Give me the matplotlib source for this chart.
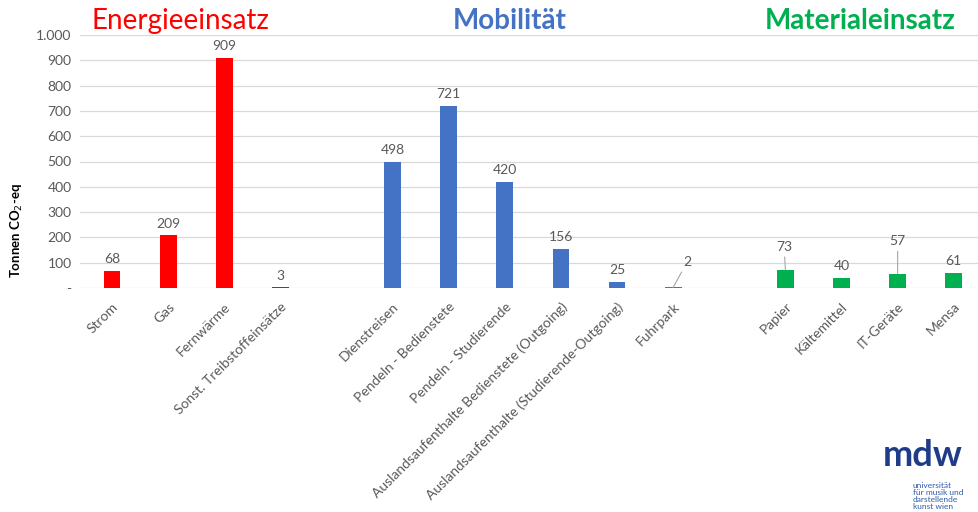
import matplotlib
matplotlib.use("Agg")
import matplotlib.pyplot as plt
from matplotlib.patches import Circle

plt.rcParams['font.family'] = ['Lato', 'DejaVu Sans']

# ---- data ----
categories = ["Strom", "Gas", "Fernwärme", "Sonst. Treibstoffeinsätze", "",
              "Dienstreisen", "Pendeln - Bedienstete", "Pendeln - Studierende",
              "Auslandsaufenthalte Bedienstete (Outgoing)",
              "Auslandsaufenthalte (Studierende-Outgoing)", "Fuhrpark", "",
              "Papier", "Kältemittel", "IT-Geräte", "Mensa"]
values = [68, 209, 909, 3, None,
          498, 721, 420, 156, 25, 2, None,
          73, 40, 57, 61]
groups = ["E", "E", "E", "E", None,
          "M", "M", "M", "M", "M", "M", None,
          "W", "W", "W", "W"]
group_titles = {"E": "Energieeinsatz", "M": "Mobilität", "W": "Materialeinsatz"}
yticks = [0, 100, 200, 300, 400, 500, 600, 700, 800, 900, 1000]
ytick_labels = ["-", "100", "200", "300", "400", "500", "600", "700", "800", "900", "1.000"]

# ---- styles ----
colors = {"E": "#FF0000", "M": "#4472C4", "W": "#00B050"}
# label offsets in points (dx, dy) for labels moved away from bars
label_offsets = {10: (10, 14), 12: (-1, 12), 14: (0, 19)}

W, H, DPI = 979, 512, 100
fig = plt.figure(figsize=(W / DPI, H / DPI), dpi=DPI)
ax = fig.add_axes([80 / W, 1 - 288 / H, (W - 80) / W, (288 - 35) / H])

gray = "#595959"
for i, (v, g) in enumerate(zip(values, groups)):
    if v is None:
        continue
    ax.bar(i, v, width=0.3, color=colors[g], zorder=3)
    if i in label_offsets:
        dx, dy = label_offsets[i]
        ax.annotate(str(v), xy=(i, v), xytext=(dx, dy), textcoords="offset points",
                    ha="center", va="bottom", fontsize=10, color=gray,
                    arrowprops=dict(arrowstyle="-", color="#A6A6A6", lw=0.8,
                                    shrinkA=1, shrinkB=0))
    else:
        ax.annotate(str(v), xy=(i, v), xytext=(0, 4), textcoords="offset points",
                    ha="center", va="bottom", fontsize=10, color=gray)

ax.set_xlim(-0.57, 15.45)
ax.set_ylim(0, 1000)
ax.set_yticks(yticks)
ax.set_yticklabels(ytick_labels, color=gray, fontsize=10)
ax.set_xticks(range(len(categories)))
ax.set_xticklabels(categories, rotation=45, ha="right", rotation_mode="anchor",
                   color=gray, fontsize=10)
ax.tick_params(axis="both", length=0, pad=6)
ax.tick_params(axis="x", pad=9)
ax.grid(axis="y", color="#D9D9D9", lw=0.9, zorder=0)
for s in ax.spines.values():
    s.set_visible(False)

fig.text(17 / W, 1 - 231 / H, "Tonnen CO$_2$-eq", fontsize=9.5, fontweight="bold",
         color="black", rotation=90, ha="center", va="center")

# group titles
fig.text(92 / W, 1 - 21 / H, group_titles["E"], color=colors["E"], fontsize=20,
         ha="left", va="center")
fig.text(510 / W, 1 - 21 / H, group_titles["M"], color=colors["M"], fontsize=20,
         fontweight="bold", ha="center", va="center")
fig.text(860 / W, 1 - 21 / H, group_titles["W"], color=colors["W"], fontsize=20,
         fontweight="bold", ha="center", va="center")

# logo approximation
logo_c = "#1F3C88"
fig.text(883 / W, 1 - 455 / H, "mdw", color=logo_c, fontsize=26, fontweight="bold",
         ha="left", va="center")
fig.text(913 / W, 1 - 496 / H, "universität\nfür musik und\ndarstellende\nkunst wien",
         color="#2E5AAC", fontsize=6, ha="left", va="center", linespacing=0.95)
fig.patches.append(Circle((-2 / W, -20 / H), 30 / W, transform=fig.transFigure,
                          color="#1F3864", zorder=0))

fig.savefig("out.png", dpi=DPI, facecolor="white")
